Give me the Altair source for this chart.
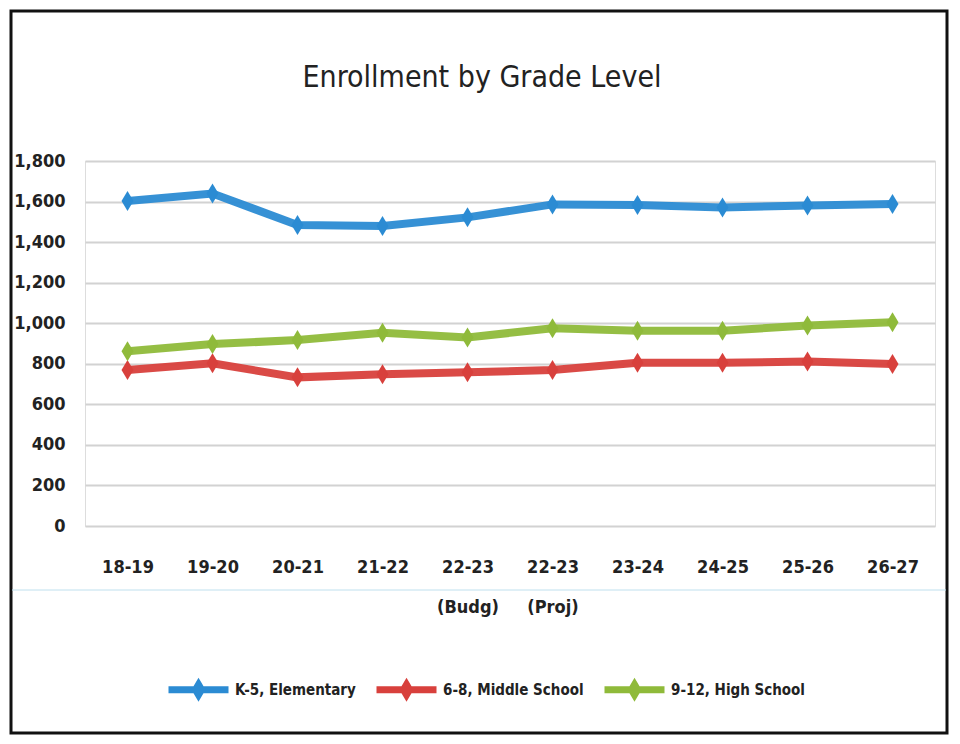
import altair as alt
import pandas as pd

title_text = "Enrollment by Grade Level"
years = ["18-19", "19-20", "20-21", "21-22", "22-23|(Budg)", "22-23|(Proj)",
         "23-24", "24-25", "25-26", "26-27"]
series_names = ["K-5, Elementary", "6-8, Middle School", "9-12, High School"]
elementary = [1603, 1640, 1484, 1479, 1522, 1586, 1583, 1571, 1580, 1588]
middle = [769, 802, 733, 748, 758, 769, 805, 805, 811, 799]
high = [862, 897, 917, 953, 930, 975, 963, 963, 989, 1005]
colors = ["#2b8bd3", "#d8403c", "#8fba3a"]

rows = []
for name, vals in zip(series_names, [elementary, middle, high]):
    for y, v in zip(years, vals):
        rows.append({"year": y, "series": name, "value": v})
df = pd.DataFrame(rows)

FONT = "Liberation Sans Narrow, DejaVu Sans Condensed, sans-serif"
W, H = 850, 365

legend_path = "M-1,0 L1,0 M0,-0.17 L0.1,0 L0,0.17 L-0.1,0 Z"
marker_path = "M0,-1 L0.6,0 L0,1 L-0.6,0 Z"

x_enc = alt.X("year:N", sort=years, title=None,
              scale=alt.Scale(paddingInner=0, paddingOuter=0.5),
              axis=alt.Axis(labelExpr="split(datum.label, '|')", labelAngle=0,
                            labelPadding=41, labelLineHeight=40, ticks=False,
                            domain=False, grid=False, labelFontSize=18,
                            labelFontWeight="bold", labelFont=FONT,
                            labelColor="#222222", labelBaseline="middle"))
y_enc = alt.Y("value:Q", title=None,
              scale=alt.Scale(domain=[0, 1800], nice=False),
              axis=alt.Axis(values=list(range(0, 1801, 200)), format=",d",
                            ticks=False, domain=False, labelPadding=20,
                            labelFontSize=18, labelFontWeight="bold",
                            labelFont=FONT, labelColor="#222222",
                            gridColor="#d2d2d2", gridWidth=2))
color_scale = alt.Scale(domain=series_names, range=colors)
legend = alt.Legend(
    title=None, orient="none", legendX=80, legendY=495,
    direction="horizontal", symbolType=legend_path, symbolSize=3600,
    symbolStrokeWidth=7, symbolOpacity=1, labelFontSize=15,
    labelFont=FONT, labelColor="#222222", labelFontWeight="bold",
    labelOffset=3, columnPadding=6, labelLimit=400)

lines = alt.Chart(df).mark_line(
    strokeWidth=8, opacity=0.95,
    point=alt.OverlayMarkDef(shape=marker_path, filled=True, size=400,
                             opacity=1)
).encode(
    x=x_enc, y=y_enc,
    color=alt.Color("series:N", sort=series_names, scale=color_scale,
                    legend=legend))

one = pd.DataFrame({"t": [title_text]})
frame = alt.Chart(one).mark_rect(
    fill=None, stroke="#111111", strokeWidth=3, clip=False
).encode(x=alt.value(-74), x2=alt.value(W + 12), y=alt.value(-150),
         y2=alt.value(H + 207))
scanline = alt.Chart(one).mark_rule(
    color="#bfe0ee", strokeWidth=1, clip=False
).encode(x=alt.value(-73), x2=alt.value(W + 11), y=alt.value(H + 64))
title = alt.Chart(one).mark_text(
    font=FONT, fontSize=30, color="#222222", baseline="middle",
    align="center", clip=False
).encode(text="t:N", x=alt.value(397), y=alt.value(-83))

chart = alt.layer(frame, scanline, title, lines).properties(
    width=W, height=H,
    autosize=alt.AutoSizeParams(type="none"),
    padding={"left": 77, "top": 153, "right": 15, "bottom": 210},
).configure_view(stroke=None).configure(background="white")

chart.save("out.html", embed_options={"renderer": "svg", "actions": False})
